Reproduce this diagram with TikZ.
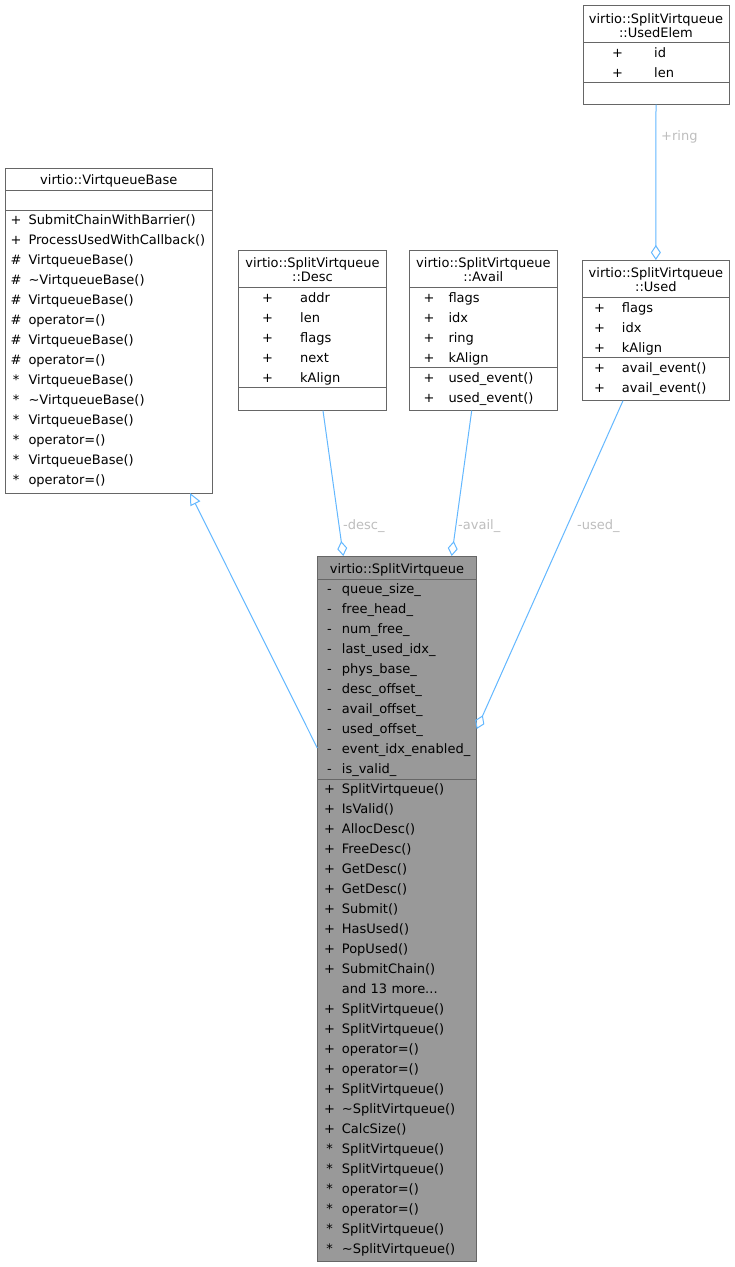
\documentclass[tikz,border=0pt]{standalone}
\usepackage{fontspec}
\setmainfont{DejaVu Sans}
\usepackage{xcolor}
\usepackage{tikz}
\usetikzlibrary{arrows.meta}

\definecolor{edgeblue}{HTML}{63B8FF}
\definecolor{boxgray}{HTML}{666666}
\definecolor{mainfill}{HTML}{999999}
\definecolor{lblgray}{HTML}{BEBEBE}

\begin{document}
\begin{tikzpicture}[x=1pt, y=-1pt,
    classbox/.style={draw=boxgray, fill=white, line width=1pt, inner sep=0pt, outer sep=0pt},
    sepline/.style={draw=boxgray, line width=1pt},
    title/.style={font=\fontsize{13}{14}\selectfont, text width=146pt, align=center, inner sep=0pt, anchor=base},
    vis/.style={font=\fontsize{13}{20}\selectfont, text width=12pt, align=center, inner sep=0pt, anchor=base},
    members/.style={font=\fontsize{13}{20}\selectfont, text width=150pt, align=left, inner sep=0pt, anchor=base west},
    inherit/.style={draw=edgeblue, line width=1pt, -{Triangle[open, length=12pt, width=11pt]}},
    assoc/.style={draw=edgeblue, line width=1pt, -{Diamond[open, length=15pt, width=10pt]}},
    lbl/.style={text=lblgray, font=\fontsize{13}{14}\selectfont, inner sep=0pt, anchor=base west}]
                \fill[white] (0,0) rectangle (735,1267);
                \useasboundingbox (0,0) rectangle (735,1267);

                % Nested struct UsedElem
                \node[classbox, minimum width=146pt, minimum height=99.5pt] (usedelem) at (656,54.75) {};
                \node[title] (usedelemtitle) at (656,23.5) {virtio::SplitVirtqueue\\::UsedElem};
                \draw[sepline] (usedelem.west |- 0,42.7) -- (usedelem.east |- 0,42.7);
                \node[vis] (usedelemvis) at (617.5,57.3) {+\\+};
                \node[members] (usedelemattr) at (654,57.3) {id\\len};
                \draw[sepline] (usedelem.west |- 0,82.3) -- (usedelem.east |- 0,82.3);

                % Base class
                \node[classbox, minimum width=207.5pt, minimum height=325pt] (vbase) at (108.75,330.5) {};
                \node[title, text width=200pt] (vbasetitle) at (108.75,184) {virtio::VirtqueueBase};
                \draw[sepline] (vbase.west |- 0,190) -- (vbase.east |- 0,190);
                \draw[sepline] (vbase.west |- 0,210) -- (vbase.east |- 0,210);
                \node[vis] (vbasevis) at (16,224.3) {+\\+\\\#\\\#\\\#\\\#\\\#\\\#\\{*}\\{*}\\{*}\\{*}\\{*}\\{*}};
                \node[members] (vbaseops) at (28.3,224.3) {SubmitChainWithBarrier()\\ProcessUsedWithCallback()\\VirtqueueBase()\\\textasciitilde VirtqueueBase()\\VirtqueueBase()\\operator=()\\VirtqueueBase()\\operator=()\\VirtqueueBase()\\\textasciitilde VirtqueueBase()\\VirtqueueBase()\\operator=()\\VirtqueueBase()\\operator=()};

                % Nested struct Desc
                \node[classbox, minimum width=148.4pt, minimum height=160.7pt] (desc) at (312.5,330.35) {};
                \node[title] (desctitle) at (312.5,267) {virtio::SplitVirtqueue\\::Desc};
                \draw[sepline] (desc.west |- 0,287.7) -- (desc.east |- 0,287.7);
                \node[vis] (descvis) at (267.5,302.3) {+\\+\\+\\+\\+};
                \node[members] (descattr) at (300,302.3) {addr\\len\\flags\\next\\kAlign};
                \draw[sepline] (desc.west |- 0,387.3) -- (desc.east |- 0,387.3);

                % Nested struct Avail
                \node[classbox, minimum width=148.7pt, minimum height=160.7pt] (avail) at (483.35,330.35) {};
                \node[title] (availtitle) at (483.35,267) {virtio::SplitVirtqueue\\::Avail};
                \draw[sepline] (avail.west |- 0,287.7) -- (avail.east |- 0,287.7);
                \node[vis] (availvis) at (429,302.3) {+\\+\\+\\+};
                \node[members] (availattr) at (448.3,302.3) {flags\\idx\\ring\\kAlign};
                \draw[sepline] (avail.west |- 0,367.3) -- (avail.east |- 0,367.3);
                \node[vis] (availopsvis) at (429,382.3) {+\\+};
                \node[members] (availops) at (448.3,382.3) {used\_event()\\used\_event()};

                % Nested struct Used
                \node[classbox, minimum width=146.3pt, minimum height=140.7pt] (used) at (655.85,330.35) {};
                \node[title] (usedtitle) at (655.85,277.7) {virtio::SplitVirtqueue\\::Used};
                \draw[sepline] (used.west |- 0,297.7) -- (used.east |- 0,297.7);
                \node[vis] (usedvis) at (599.5,312.3) {+\\+\\+};
                \node[members] (usedattr) at (621.7,312.3) {flags\\idx\\kAlign};
                \draw[sepline] (used.west |- 0,357) -- (used.east |- 0,357);
                \node[vis] (usedopsvis) at (599.5,372.3) {+\\+};
                \node[members] (usedops) at (621.7,372.3) {avail\_event()\\avail\_event()};

                % The class itself, filled grey
                \node[classbox, fill=mainfill, minimum width=159.4pt, minimum height=705pt] (svq) at (397,908.5) {};
                \node[title] (svqtitle) at (397,573.3) {virtio::SplitVirtqueue};
                \draw[sepline] (svq.west |- 0,579) -- (svq.east |- 0,579);
                \node[vis] (svqvis) at (329.5,593.3) {-\\-\\-\\-\\-\\-\\-\\-\\-\\-};
                \node[members] (svqattr) at (341.7,593.3) {queue\_size\_\\free\_head\_\\num\_free\_\\last\_used\_idx\_\\phys\_base\_\\desc\_offset\_\\avail\_offset\_\\used\_offset\_\\event\_idx\_enabled\_\\is\_valid\_};
                \draw[sepline] (svq.west |- 0,779) -- (svq.east |- 0,779);
                \node[vis] (svqopsvis) at (329.5,793.3) {+\\+\\+\\+\\+\\+\\+\\+\\+\\+\\\mbox{}\\+\\+\\+\\+\\+\\+\\+\\{*}\\{*}\\{*}\\{*}\\{*}\\{*}};
                \node[members] (svqops) at (341.7,793.3) {SplitVirtqueue()\\IsValid()\\AllocDesc()\\FreeDesc()\\GetDesc()\\GetDesc()\\Submit()\\HasUsed()\\PopUsed()\\SubmitChain()\\and 13 more...\\SplitVirtqueue()\\SplitVirtqueue()\\operator=()\\operator=()\\SplitVirtqueue()\\\textasciitilde SplitVirtqueue()\\CalcSize()\\SplitVirtqueue()\\SplitVirtqueue()\\operator=()\\operator=()\\SplitVirtqueue()\\\textasciitilde SplitVirtqueue()};

                % Inheritance and member edges
                \draw[inherit] ([yshift=160.5pt]svq.west) -- ([xshift=81.25pt]vbase.south);
                \draw[assoc] ([xshift=10.5pt]desc.south) -- ([xshift=-53.7pt]svq.north);
                \draw[assoc] ([xshift=-11.65pt]avail.south) -- ([xshift=54.7pt]svq.north);
                \draw[assoc] ([xshift=-32.85pt]used.south) -- ([yshift=179.5pt]svq.east);
                \draw[assoc] (usedelem.south) -- (used.north);

                % Edge labels
                \node[lbl] (ringlbl) at (661,140) {+ring};
                \node[lbl] (desclbl) at (343,529) {-desc\_};
                \node[lbl] (availlbl) at (458,529) {-avail\_};
                \node[lbl] (usedlbl) at (577,529) {-used\_};
\end{tikzpicture}
\end{document}
